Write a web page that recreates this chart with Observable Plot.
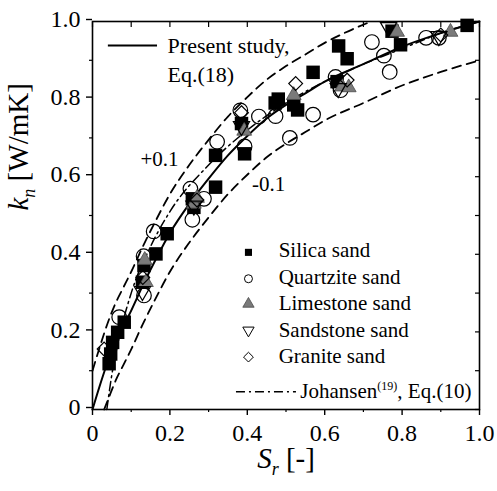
<!DOCTYPE html>
<html><head><meta charset="utf-8">
<script src="https://cdn.jsdelivr.net/npm/d3@7"></script>
<script src="https://cdn.jsdelivr.net/npm/@observablehq/plot@0.6"></script>
<style>
html,body{margin:0;padding:0;background:#fff;}
#chart svg{display:block;}
#chart svg text, #chart svg tspan{font-family:"Liberation Serif","Times New Roman",serif !important;}
</style></head><body><div id="chart"></div>
<script>
// ---- data ----
const silicaSr = [0.043,0.047,0.052,0.065,0.082,0.129,0.133,0.164,0.193,0.258,0.262,0.318,0.318,0.385,0.393,0.472,0.480,0.520,0.530,0.570,0.632,0.636,0.658,0.774,0.796,0.968];
const silicaK  = [0.118,0.143,0.173,0.199,0.225,0.328,0.371,0.401,0.453,0.543,0.521,0.655,0.573,0.737,0.659,0.790,0.800,0.785,0.772,0.869,0.845,0.937,0.904,0.975,0.940,0.990];

const quartziteSr = [0.069,0.133,0.132,0.158,0.253,0.258,0.288,0.322,0.382,0.393,0.430,0.473,0.510,0.570,0.628,0.641,0.722,0.753,0.768,0.862,0.895];
const quartziteK  = [0.238,0.294,0.395,0.459,0.569,0.489,0.543,0.690,0.771,0.678,0.755,0.756,0.700,0.760,0.857,0.823,0.947,0.912,0.870,0.958,0.958];

const limestoneSr = [0.135,0.138,0.262,0.270,0.392,0.520,0.645,0.662,0.787,0.925];
const limestoneK  = [0.385,0.328,0.530,0.545,0.718,0.810,0.832,0.830,0.973,0.973];

const sandstoneSr = [0.129,0.262,0.385,0.635,0.765,0.895];
const sandstoneK  = [0.305,0.525,0.730,0.828,0.985,0.962];

const graniteSr = [0.030,0.130,0.270,0.385,0.525,0.658,0.900];
const graniteK  = [0.156,0.340,0.540,0.765,0.840,0.849,0.965];

const presentSr = [0,0.02,0.04,0.06,0.08,0.10,0.13,0.16,0.20,0.25,0.30,0.35,0.40,0.45,0.50,0.55,0.60,0.70,0.80,0.90,1.00];
const presentK  = [0,0.065,0.125,0.175,0.215,0.255,0.320,0.380,0.455,0.530,0.595,0.655,0.705,0.750,0.785,0.815,0.845,0.890,0.935,0.970,1.000];

const upperSr = [0,0.02,0.04,0.06,0.08,0.10,0.13,0.16,0.20,0.25,0.30,0.35,0.40,0.45,0.50,0.55,0.60,0.65,0.72];
const upperK  = [0.100,0.165,0.225,0.275,0.315,0.355,0.420,0.480,0.555,0.630,0.695,0.755,0.805,0.850,0.885,0.915,0.945,0.970,1.000];

const lowerSr = [0.030,0.040,0.060,0.080,0.10,0.13,0.16,0.20,0.25,0.30,0.35,0.40,0.45,0.50,0.55,0.60,0.70,0.80,0.90,1.00];
const lowerK  = [0,0.025,0.075,0.115,0.155,0.220,0.280,0.355,0.430,0.495,0.555,0.605,0.650,0.685,0.715,0.745,0.790,0.835,0.870,0.900];

const johansenSr = [0.037,0.05,0.07,0.10,0.15,0.20,0.30,0.40,0.50,0.60,0.70,0.80,0.90,1.00];
const johansenK  = [0,0.090,0.190,0.300,0.420,0.510,0.630,0.720,0.790,0.845,0.890,0.930,0.970,1.000];

const majorTicks = [0,0.2,0.4,0.6,0.8,1.0];
const tickLabels = ["0","0.2","0.4","0.6","0.8","1.0"];
const minorTicks = [0.1,0.3,0.5,0.7,0.9];
const allTicks = [0,0.1,0.2,0.3,0.4,0.5,0.6,0.7,0.8,0.9,1.0];

const seriesNames = ["Silica sand","Quartzite sand","Limestone sand","Sandstone sand","Granite sand"];
const curveNames = ["Present study,","Eq.(18)","Johansen(19), Eq.(10)"];
const bandLabels = ["+0.1","-0.1"];
const xTitle = "S_r [-]";
const yTitle = "k_n [W/mK]";

// ---- build ----
const pts = (xs, ys) => xs.map((x, i) => ({x, y: ys[i]}));
const fmt = d => tickLabels[majorTicks.indexOf(d)];
const blank = () => "";
const FONT = "'Liberation Serif', 'Times New Roman', serif";

// legend positions (data units)
const legX = 0.403, legTextX = 0.481;
const legY = [0.405, 0.337, 0.272, 0.204, 0.135];
const legTextY = [0.410, 0.340, 0.274, 0.205, 0.138];

const chart = Plot.plot({
  width: 497, height: 491,
  marginLeft: 92, marginRight: 18, marginTop: 21, marginBottom: 82,
  x: {domain: [0, 1], axis: null},
  y: {domain: [0, 1], axis: null},
  style: {fontFamily: FONT, fontSize: "24px", background: "white", color: "black"},
  marks: [
    // curves
    Plot.line(pts(upperSr, upperK), {x: "x", y: "y", curve: "monotone-x", stroke: "black", strokeWidth: 1.8, strokeDasharray: "9,6"}),
    Plot.line(pts(lowerSr, lowerK), {x: "x", y: "y", curve: "monotone-x", stroke: "black", strokeWidth: 1.8, strokeDasharray: "9,6"}),
    Plot.line(pts(johansenSr, johansenK), {x: "x", y: "y", curve: "monotone-x", stroke: "black", strokeWidth: 1.5, strokeDasharray: "9,4,2,4"}),
    Plot.line(pts(presentSr, presentK), {x: "x", y: "y", curve: "monotone-x", stroke: "black", strokeWidth: 2}),
    // points
    Plot.dot(pts(silicaSr, silicaK), {x: "x", y: "y", symbol: "square", r: 7.6, fill: "black", stroke: "none"}),
    Plot.dot(pts(quartziteSr, quartziteK), {x: "x", y: "y", symbol: "circle", r: 7.3, fill: "none", stroke: "black", strokeWidth: 1.2}),
    Plot.dot(pts(limestoneSr, limestoneK), {x: "x", y: "y", symbol: "triangle", r: 5.5, fill: "#7a7a7a", stroke: "#4a4a4a", strokeWidth: 0.8}),
    Plot.dot(pts(sandstoneSr, sandstoneK), {x: "x", y: "y", symbol: "triangle", r: 6, rotate: 180, fill: "none", stroke: "black", strokeWidth: 1.2}),
    Plot.dot(pts(graniteSr, graniteK), {x: "x", y: "y", symbol: "diamond2", r: 6.2, fill: "none", stroke: "black", strokeWidth: 1.2}),
    // band labels
    Plot.text([bandLabels[0]], {x: 0.173, y: 0.646, text: d => d, fontSize: 21, textAnchor: "middle", fontFamily: FONT}),
    Plot.text([bandLabels[1]], {x: 0.455, y: 0.580, text: d => d, fontSize: 21, textAnchor: "middle", fontFamily: FONT}),
    // top legend
    Plot.ruleY([0.938], {x1: 0.041, x2: 0.168, stroke: "black", strokeWidth: 2}),
    Plot.text([curveNames[0]], {x: 0.194, y: 0.938, text: d => d, fontSize: 22, textAnchor: "start", fontFamily: FONT}),
    Plot.text([curveNames[1]], {x: 0.194, y: 0.861, text: d => d, fontSize: 22, textAnchor: "start", fontFamily: FONT}),
    // bottom legend
    Plot.dot([0], {x: () => legX, y: () => legY[0], symbol: "square", r: 4, fill: "black", stroke: "none"}),
    Plot.dot([0], {x: () => legX, y: () => legY[1], symbol: "circle", r: 4, fill: "none", stroke: "black", strokeWidth: 1}),
    Plot.dot([0], {x: () => legX, y: () => legY[2], symbol: "triangle", r: 4.2, fill: "#7a7a7a", stroke: "#4a4a4a", strokeWidth: 0.8}),
    Plot.dot([0], {x: () => legX, y: () => legY[3], symbol: "triangle", r: 4.2, rotate: 180, fill: "none", stroke: "black", strokeWidth: 1}),
    Plot.dot([0], {x: () => legX, y: () => legY[4], symbol: "diamond2", r: 4.4, fill: "none", stroke: "black", strokeWidth: 1}),
    Plot.text(seriesNames, {x: () => legTextX, y: (d, i) => legTextY[i], text: d => d, fontSize: 21, textAnchor: "start", fontFamily: FONT}),
    Plot.ruleY([0.046], {x1: 0.372, x2: 0.527, stroke: "black", strokeWidth: 1.5, strokeDasharray: "9,4,2,4"}),
    Plot.text([curveNames[2]], {x: 0.537, y: 0.046, text: d => d, fontSize: 21, textAnchor: "start", fontFamily: FONT}),
    // frame and axes
    Plot.frame({stroke: "black", strokeWidth: 1.6}),
    Plot.axisX(majorTicks, {anchor: "bottom", tickSize: 6, tickPadding: 8, tickFormat: fmt, fontSize: 24, fontFamily: FONT, label: null, strokeWidth: 1.4}),
    Plot.axisX(minorTicks, {anchor: "bottom", tickSize: 3, tickFormat: blank, label: null, strokeWidth: 1.2}),
    Plot.axisY(majorTicks, {anchor: "left", tickSize: 6, tickPadding: 6, tickFormat: fmt, fontSize: 24, fontFamily: FONT, label: null, strokeWidth: 1.4, dy: -2}),
    Plot.axisY(minorTicks, {anchor: "left", tickSize: 3, tickFormat: blank, label: null, strokeWidth: 1.2}),
    Plot.axisX(allTicks, {anchor: "top", tickSize: 5, dy: 5, tickFormat: blank, label: null, strokeWidth: 1.2}),
    Plot.axisY(allTicks, {anchor: "right", tickSize: 5, dx: -5, tickFormat: blank, label: null, strokeWidth: 1.2}),
    // axis titles
    Plot.text([yTitle], {frameAnchor: "left", dx: -74, dy: -5, rotate: -90, text: d => d, fontSize: 29, fontFamily: FONT}),
    Plot.text([xTitle], {frameAnchor: "bottom", dy: 58, text: d => d, fontSize: 29, fontFamily: FONT})
  ]
});

document.getElementById("chart").appendChild(chart);

// rich text (italics, sub/superscripts)
function rich(el, parts) {
  const t = d3.select(el);
  t.text(null);
  for (const p of parts) {
    const s = t.append("tspan").text(p.t);
    if (p.italic) s.attr("font-style", "italic");
    if (p.size) s.attr("font-size", p.size);
    if (p.dy) s.attr("dy", p.dy);
  }
}
d3.select(chart).selectAll("text").attr("font-family", FONT).each(function() {
  const c = this.textContent;
  if (c === yTitle) rich(this, [{t: "k", italic: true}, {t: "n", italic: true, size: 18, dy: 7}, {t: " [W/mK]", dy: -7}]);
  else if (c === xTitle) rich(this, [{t: "S", italic: true}, {t: "r", italic: true, size: 18, dy: 7}, {t: " [-]", dy: -7}]);
  else if (c === curveNames[2]) rich(this, [{t: "Johansen"}, {t: "(19)", size: 12, dy: -8}, {t: ", Eq.(10)", dy: 8}]);
});
</script></body></html>
